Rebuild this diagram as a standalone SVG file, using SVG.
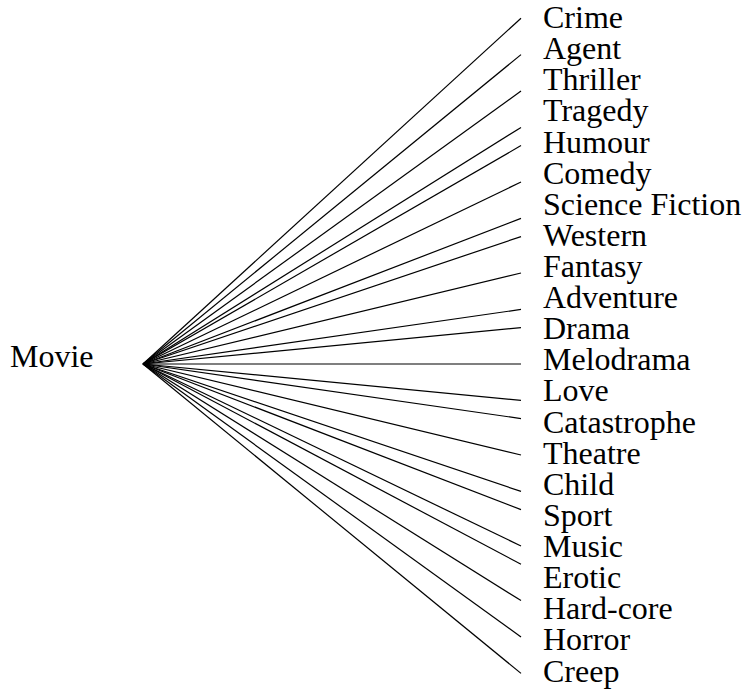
<svg xmlns="http://www.w3.org/2000/svg" width="744" height="689" viewBox="0 0 744 689">
<style>
text{font-family:"Liberation Serif","Times New Roman",serif;font-size:32px;fill:#000}
.c line{stroke:#000;stroke-width:1.2;fill:none}
</style>
<rect width="744" height="689" fill="#fff"/>
<g id="connectors" class="c">
<line x1="143" y1="364" x2="521" y2="18.2"/>
<line x1="143" y1="364" x2="521" y2="54.6"/>
<line x1="143" y1="364" x2="521" y2="91"/>
<line x1="143" y1="364" x2="521" y2="127.4"/>
<line x1="143" y1="364" x2="521" y2="145.6"/>
<line x1="143" y1="364" x2="521" y2="182"/>
<line x1="143" y1="364" x2="521" y2="218.4"/>
<line x1="143" y1="364" x2="521" y2="236.6"/>
<line x1="143" y1="364" x2="521" y2="273"/>
<line x1="143" y1="364" x2="521" y2="309.4"/>
<line x1="143" y1="364" x2="521" y2="327.6"/>
<line x1="143" y1="364" x2="521" y2="364"/>
<line x1="143" y1="364" x2="521" y2="400.4"/>
<line x1="143" y1="364" x2="521" y2="418.6"/>
<line x1="143" y1="364" x2="521" y2="455"/>
<line x1="143" y1="364" x2="521" y2="491.4"/>
<line x1="143" y1="364" x2="521" y2="509.6"/>
<line x1="143" y1="364" x2="521" y2="546"/>
<line x1="143" y1="364" x2="521" y2="564.2"/>
<line x1="143" y1="364" x2="521" y2="600.6"/>
<line x1="143" y1="364" x2="521" y2="637"/>
<line x1="143" y1="364" x2="521" y2="673.4"/>
</g>
<g id="movie"><text x="10" y="367">Movie</text></g>
<g id="crime"><text x="543" y="28">Crime</text></g>
<g id="agent"><text x="543" y="59.1">Agent</text></g>
<g id="thriller"><text x="543" y="90.2">Thriller</text></g>
<g id="tragedy"><text x="543" y="121.4">Tragedy</text></g>
<g id="humour"><text x="543" y="152.5">Humour</text></g>
<g id="comedy"><text x="543" y="183.6">Comedy</text></g>
<g id="science-fiction"><text x="543" y="214.7">Science Fiction</text></g>
<g id="western"><text x="543" y="245.8">Western</text></g>
<g id="fantasy"><text x="543" y="277">Fantasy</text></g>
<g id="adventure"><text x="543" y="308.1">Adventure</text></g>
<g id="drama"><text x="543" y="339.2">Drama</text></g>
<g id="melodrama"><text x="543" y="370.3">Melodrama</text></g>
<g id="love"><text x="543" y="401.4">Love</text></g>
<g id="catastrophe"><text x="543" y="432.6">Catastrophe</text></g>
<g id="theatre"><text x="543" y="463.7">Theatre</text></g>
<g id="child"><text x="543" y="494.8">Child</text></g>
<g id="sport"><text x="543" y="525.9">Sport</text></g>
<g id="music"><text x="543" y="557">Music</text></g>
<g id="erotic"><text x="543" y="588.2">Erotic</text></g>
<g id="hard-core"><text x="543" y="619.3">Hard-core</text></g>
<g id="horror"><text x="543" y="650.4">Horror</text></g>
<g id="creep"><text x="543" y="681.5">Creep</text></g>
</svg>
